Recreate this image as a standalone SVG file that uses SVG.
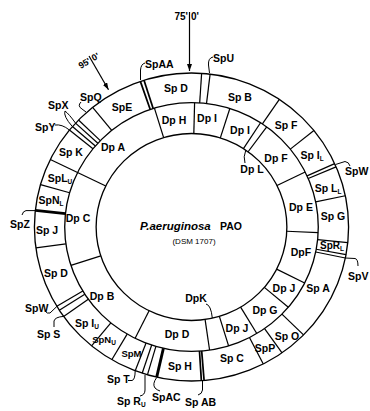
<svg xmlns="http://www.w3.org/2000/svg" width="370" height="411" viewBox="0 0 370 411">
<defs>
<style>
.ring{fill:none;stroke:#000;stroke-width:1.3}
.dv{stroke:#000;stroke-width:1.2}
.tk{stroke-width:2.8}
.db{stroke-width:1.7}
.ld{fill:none;stroke:#000;stroke-width:1}
text{font-family:"Liberation Sans",Arial,sans-serif;font-weight:bold;font-size:10.5px;fill:#000}
.c{text-anchor:middle}
.e{text-anchor:end}
.s{font-size:6.5px}
.sm{font-size:9.5px}
</style>
<line id="sd" x1="0" y1="-124.3" x2="0" y2="-154"/>
<line id="dd" x1="0" y1="-93.5" x2="0" y2="-124.3"/>
<marker id="ah" viewBox="0 0 7 5" refX="7" refY="2.5" markerWidth="7" markerHeight="5" markerUnits="userSpaceOnUse" orient="auto"><path d="M0,0 L7,2.5 L0,5 z"/></marker>
</defs>
<rect width="370" height="411" fill="#fff"/>

<g id="rings" transform="translate(191.5 227) scale(1.02 1)">
<circle class="ring" r="154"/>
<circle class="ring" r="124.3"/>
<circle class="ring" r="93.5"/>
</g>

<g id="sp-dividers" class="dv" transform="translate(191.5 227) scale(1.02 1)">
<use href="#sd" transform="rotate(3.7)"/>
<use href="#sd" transform="rotate(6.8)"/>
<use href="#sd" transform="rotate(34)"/>
<use href="#sd" transform="rotate(51.2)"/>
<use href="#sd" transform="rotate(65.7)"/>
<use href="#sd" transform="rotate(67)"/>
<use href="#sd" transform="rotate(78.3)"/>
<use href="#sd" transform="rotate(95.8)"/>
<use href="#sd" transform="rotate(100.3)"/>
<use href="#sd" transform="rotate(101.6)"/>
<use href="#sd" transform="rotate(134.5)"/>
<use href="#sd" transform="rotate(144.8)"/>
<use href="#sd" transform="rotate(152.8)"/>
<use href="#sd" class="db" transform="rotate(175.4)"/>
<use href="#sd" class="db" transform="rotate(176.4)"/>
<use href="#sd" class="tk" transform="rotate(192.8)"/>
<use href="#sd" transform="rotate(196.3)"/>
<use href="#sd" transform="rotate(198.3)"/>
<use href="#sd" transform="rotate(201)"/>
<use href="#sd" transform="rotate(210.5)"/>
<use href="#sd" transform="rotate(219.5)"/>
<use href="#sd" transform="rotate(234.5)"/>
<use href="#sd" transform="rotate(237.3)"/>
<use href="#sd" transform="rotate(239)"/>
<use href="#sd" transform="rotate(262.2)"/>
<use href="#sd" class="tk" transform="rotate(276.2)"/>
<use href="#sd" transform="rotate(286)"/>
<use href="#sd" transform="rotate(296)"/>
<use href="#sd" transform="rotate(309)"/>
<use href="#sd" transform="rotate(310.7)"/>
<use href="#sd" transform="rotate(312.4)"/>
<use href="#sd" transform="rotate(314)"/>
<use href="#sd" transform="rotate(321)"/>
<use href="#sd" class="db" transform="rotate(341)"/>
<use href="#sd" class="db" transform="rotate(342.4)"/>
</g>

<g id="dp-dividers" class="dv" transform="translate(191.5 227) scale(1.02 1)">
<use href="#dd" transform="rotate(1.4)"/>
<use href="#dd" transform="rotate(17.6)"/>
<use href="#dd" transform="rotate(33)"/>
<use href="#dd" transform="rotate(36.4)"/>
<use href="#dd" transform="rotate(63.7)"/>
<use href="#dd" transform="rotate(92.6)"/>
<use href="#dd" transform="rotate(116.8)"/>
<use href="#dd" transform="rotate(130.2)"/>
<use href="#dd" transform="rotate(149)"/>
<use href="#dd" transform="rotate(163)"/>
<use href="#dd" transform="rotate(171.8)"/>
<use href="#dd" transform="rotate(206.4)"/>
<use href="#dd" transform="rotate(252)"/>
<use href="#dd" transform="rotate(296)"/>
<use href="#dd" transform="rotate(343)"/>
</g>

<g id="connectors">
<path class="ld" d="M213,57 Q208,58 208.5,65 L209.5,73"/>
<path class="ld" d="M145,63 Q141,64 140.5,70 L140.5,80"/>
<path class="ld" d="M81,102 Q77,106 82,109 L86,112"/>
<path class="ld" d="M72.4,126.6 Q63,116 65,111 Q69,114 75.6,123.2"/>
<path class="ld" d="M55,125 Q62,124 69.4,130"/>
<path class="ld" d="M35.4,210.6 L26,210.6 Q23,211 22,215"/>
<path class="ld" d="M45,311 Q47,314 50,313 L57,306.3"/>
<path class="ld" d="M54,327 L54,321 Q55,317 63.6,316.4"/>
<path class="ld" d="M128,380.5 L132,380.5 Q135,380 135.2,371"/>
<path class="ld" d="M145,375 L145,390 Q145,395 140,396"/>
<path class="ld" d="M156.7,377.5 Q152,384 155,388 Q157,390 160,391"/>
<path class="ld" d="M202.5,381 L202.5,390 Q202,394 198,395"/>
<path class="ld" d="M345.4,258 L355,258.5 Q358,259 358,266"/>
<path class="ld" d="M335.5,164.5 L345,161.5 Q349,162 350,166"/>
<path class="ld" d="M245,163 Q243,157 245.8,150.1"/>
<path class="ld" d="M206,304 Q211,305 212.3,318"/>
<g id="arrow-75" transform="translate(189.5 12)">
<line x1="0" y1="0" x2="0" y2="59" stroke="#000" stroke-width="1.2" marker-end="url(#ah)"/>
<text class="e" x="-1.5" y="8" style="font-size:10px">75'</text>
<text x="1.5" y="8" style="font-size:10px">0'</text>
</g>
<g id="arrow-95" transform="translate(89 56) rotate(-30)">
<line x1="0" y1="0" x2="0" y2="39" stroke="#000" stroke-width="1.2" marker-end="url(#ah)"/>
<text class="e" x="-1.5" y="7" style="font-size:9px">95'</text>
<text x="1.5" y="7" style="font-size:9px">0'</text>
</g>
</g>

<g id="sp-D1"><text class="c" x="176" y="91.5">Sp D</text></g>
<g id="sp-B"><text class="c" x="240" y="100.5">Sp B</text></g>
<g id="sp-F"><text class="c" x="286" y="128.5">Sp F</text></g>
<g id="sp-IL"><text class="c" x="312" y="158.5">Sp I<tspan class="s" dy="2">L</tspan></text></g>
<g id="sp-LL"><text class="c" x="328" y="191.5">Sp L<tspan class="s" dy="2">L</tspan></text></g>
<g id="sp-G"><text class="c" x="333" y="219.5">Sp G</text></g>
<g id="sp-RL"><text class="c" x="332" y="249" style="font-size:10px">SpR<tspan class="s" dy="2">L</tspan></text></g>
<g id="sp-A"><text class="c" x="318" y="291.5">Sp A</text></g>
<g id="sp-O"><text class="c" x="287" y="339.5">Sp O</text></g>
<g id="sp-P"><text class="c" x="265" y="351.5">SpP</text></g>
<g id="sp-C"><text class="c" x="232" y="361.5">Sp C</text></g>
<g id="sp-H"><text class="c" x="180" y="369.5">Sp H</text></g>
<g id="sp-M"><text class="c sm" x="131.5" y="357">SpM</text></g>
<g id="sp-NU"><text class="c sm" x="104" y="343">SpN<tspan class="s" dy="2">U</tspan></text></g>
<g id="sp-IU"><text class="c" x="87" y="326.5">Sp I<tspan class="s" dy="2">U</tspan></text></g>
<g id="sp-D2"><text class="c" x="56" y="276.5">Sp D</text></g>
<g id="sp-J"><text class="c" x="47" y="233.5">Sp J</text></g>
<g id="sp-NL"><text class="c" x="51" y="203.5">SpN<tspan class="s" dy="2">L</tspan></text></g>
<g id="sp-LU"><text class="c" x="60" y="181.5">SpL<tspan class="s" dy="2">U</tspan></text></g>
<g id="sp-K"><text class="c" x="71" y="155.5">Sp K</text></g>
<g id="sp-E"><text class="c" x="122" y="110.5">SpE</text></g>

<g id="dp-H"><text class="c" x="174" y="123.5">Dp H</text></g>
<g id="dp-I1"><text class="c" x="207" y="121.5">Dp I</text></g>
<g id="dp-I2"><text class="c" x="240" y="133.5">Dp I</text></g>
<g id="dp-F1"><text class="c" x="276" y="161.5">Dp F</text></g>
<g id="dp-E"><text class="c" x="301" y="210.5">Dp E</text></g>
<g id="dp-F2"><text class="c" x="301" y="255.5">DpF</text></g>
<g id="dp-J1"><text class="c" x="284" y="291.5">Dp J</text></g>
<g id="dp-G"><text class="c" x="265" y="313.5">Dp G</text></g>
<g id="dp-J2"><text class="c" x="237" y="331.5">Dp J</text></g>
<g id="dp-D"><text class="c" x="177" y="337.5">Dp D</text></g>
<g id="dp-B"><text class="c" x="102" y="299.5">Dp B</text></g>
<g id="dp-C"><text class="c" x="78" y="221.5">Dp C</text></g>
<g id="dp-A"><text class="c" x="113" y="150.5">Dp A</text></g>
<g id="dp-L"><text class="c" x="252" y="172.5">Dp L</text></g>
<g id="dp-K"><text class="c" x="196" y="302">DpK</text></g>

<g id="lbl-SpU"><text x="213" y="62">SpU</text></g>
<g id="lbl-SpAA"><text x="145" y="68">SpAA</text></g>
<g id="lbl-SpQ"><text x="80" y="101">SpQ</text></g>
<g id="lbl-SpX"><text x="48" y="109">SpX</text></g>
<g id="lbl-SpY"><text x="35" y="131">SpY</text></g>
<g id="lbl-SpZ"><text x="10" y="228">SpZ</text></g>
<g id="lbl-SpW1"><text x="25" y="312">SpW</text></g>
<g id="lbl-SpS"><text x="37" y="338">Sp S</text></g>
<g id="lbl-SpT"><text x="107" y="383">Sp T</text></g>
<g id="lbl-SpRU"><text x="117" y="405">Sp R<tspan class="s" dy="2">U</tspan></text></g>
<g id="lbl-SpAC"><text x="152" y="401">SpAC</text></g>
<g id="lbl-SpAB"><text x="185" y="406">Sp AB</text></g>
<g id="lbl-SpV"><text x="348" y="280">SpV</text></g>
<g id="lbl-SpW2"><text x="345" y="175">SpW</text></g>

<g id="center-label">
<text x="140" y="230" style="font-size:11.5px;font-style:italic">P.aeruginosa</text>
<text x="220" y="230" style="font-size:10.5px">PAO</text>
<text class="c" x="194" y="244" style="font-size:8px;font-weight:normal">(DSM 1707)</text>
</g>
</svg>
